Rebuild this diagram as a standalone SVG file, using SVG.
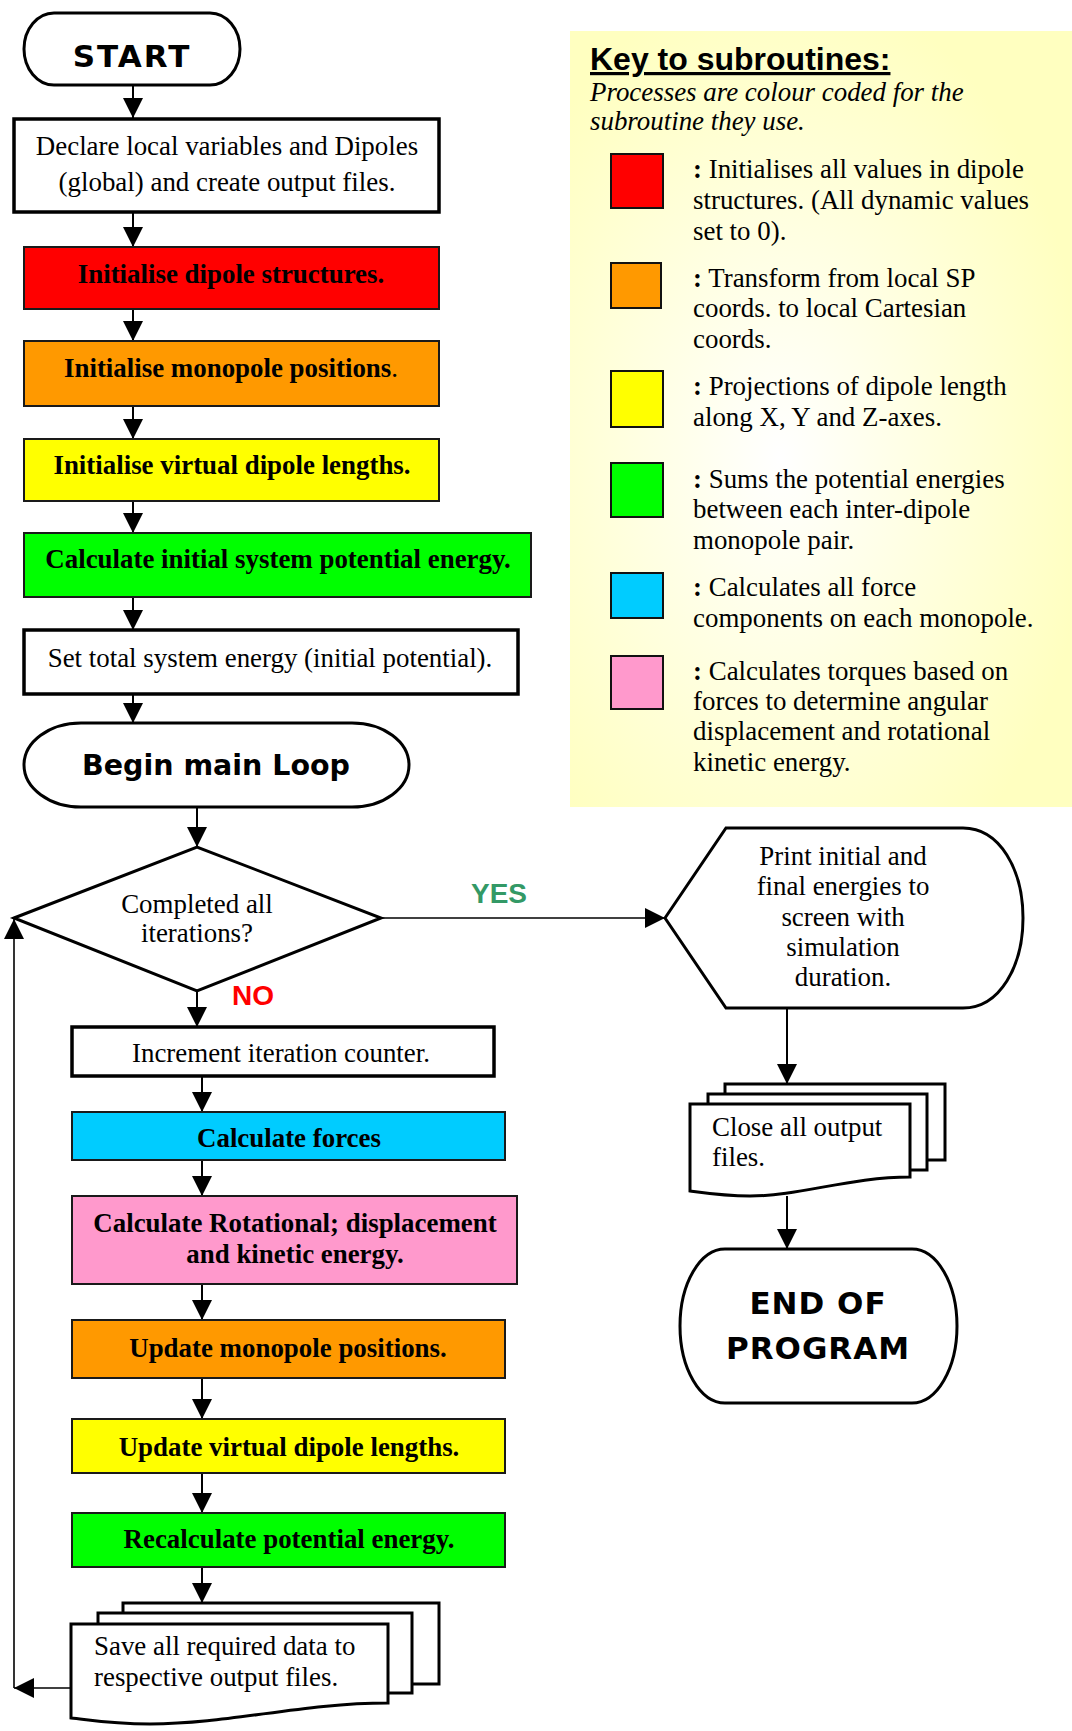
<svg xmlns="http://www.w3.org/2000/svg" width="1072" height="1731" viewBox="0 0 1072 1731">
<style>
  .serif { font-family: "Liberation Serif", "Times New Roman", serif; font-size: 26.9px; fill: #000; }
  .bold { font-weight: bold; }
  .mid { text-anchor: middle; }
  .heavy { font-family: "DejaVu Sans", "Liberation Sans", sans-serif; font-weight: bold; fill: #000; text-anchor: middle; }
  .wbox { fill: #fff; stroke: #000; stroke-width: 3.5; }
  .cbox { stroke: #1a1a1a; stroke-width: 2; }
  .shape { fill: #fff; stroke: #000; stroke-width: 3; }
  .conn { stroke: #000; stroke-width: 2; fill: none; marker-end: url(#arrow); }
  .thin { stroke: #000; stroke-width: 1.6; fill: none; marker-end: url(#arrow); }
  .sq { stroke: #111; stroke-width: 2; }
</style>
<defs>
  <marker id="arrow" viewBox="0 0 20 20" markerWidth="20" markerHeight="20" markerUnits="userSpaceOnUse" refX="20" refY="10" orient="auto">
    <path d="M0,0 L20,10 L0,20 Z" fill="#000"/>
  </marker>
  <radialGradient id="keyGrad" cx="0.42" cy="0.55" r="0.62">
    <stop offset="0" stop-color="#ffffff"/>
    <stop offset="1" stop-color="#ffffc0"/>
  </radialGradient>
</defs>

<!-- Key -->
<g id="key">
  <rect x="570" y="31" width="502" height="776" fill="url(#keyGrad)"/>
  <text x="590" y="70" font-family="Liberation Sans, Arial, sans-serif" font-weight="bold" font-size="32" text-decoration="underline">Key to subroutines:</text>
  <text class="serif" font-style="italic" x="590" y="101">Processes are colour coded for the</text>
  <text class="serif" font-style="italic" x="590" y="130">subroutine they use.</text>
  <rect class="sq" x="611" y="154" width="52" height="54" fill="#ff0000"/>
  <text class="serif" x="693" y="178"><tspan font-weight="bold">:</tspan> Initialises all values in dipole</text>
  <text class="serif" x="693" y="209">structures. (All dynamic values</text>
  <text class="serif" x="693" y="240">set to 0).</text>
  <rect class="sq" x="611" y="263" width="50" height="45" fill="#ff9900"/>
  <text class="serif" x="693" y="287"><tspan font-weight="bold">:</tspan> Transform from local SP</text>
  <text class="serif" x="693" y="317">coords. to local Cartesian</text>
  <text class="serif" x="693" y="348">coords.</text>
  <rect class="sq" x="611" y="371" width="52" height="56" fill="#ffff00"/>
  <text class="serif" x="693" y="395"><tspan font-weight="bold">:</tspan> Projections of dipole length</text>
  <text class="serif" x="693" y="426">along X, Y and Z-axes.</text>
  <rect class="sq" x="611" y="463" width="52" height="54" fill="#00ff00"/>
  <text class="serif" x="693" y="488"><tspan font-weight="bold">:</tspan> Sums the potential energies</text>
  <text class="serif" x="693" y="518">between each inter-dipole</text>
  <text class="serif" x="693" y="549">monopole pair.</text>
  <rect class="sq" x="611" y="573" width="52" height="45" fill="#00ccff"/>
  <text class="serif" x="693" y="596"><tspan font-weight="bold">:</tspan> Calculates all force</text>
  <text class="serif" x="693" y="627">components on each monopole.</text>
  <rect class="sq" x="611" y="656" width="52" height="53" fill="#ff99cc"/>
  <text class="serif" x="693" y="680"><tspan font-weight="bold">:</tspan> Calculates torques based on</text>
  <text class="serif" x="693" y="710">forces to determine angular</text>
  <text class="serif" x="693" y="740">displacement and rotational</text>
  <text class="serif" x="693" y="771">kinetic energy.</text>
</g>

<!-- Connectors -->
<g id="connectors">
  <line class="conn" x1="133" y1="85" x2="133" y2="118"/>
  <line class="conn" x1="133" y1="212" x2="133" y2="247"/>
  <line class="conn" x1="133" y1="309" x2="133" y2="341"/>
  <line class="conn" x1="133" y1="406" x2="133" y2="439"/>
  <line class="conn" x1="133" y1="501" x2="133" y2="533"/>
  <line class="conn" x1="133" y1="597" x2="133" y2="630"/>
  <line class="conn" x1="133" y1="694" x2="133" y2="723"/>
  <line class="conn" x1="197" y1="807" x2="197" y2="847"/>
  <line class="thin" x1="381" y1="918" x2="665" y2="918"/>
  <line class="conn" x1="197" y1="991" x2="197" y2="1027"/>
  <line class="conn" x1="202" y1="1076" x2="202" y2="1112"/>
  <line class="conn" x1="202" y1="1160" x2="202" y2="1196"/>
  <line class="conn" x1="202" y1="1284" x2="202" y2="1320"/>
  <line class="conn" x1="202" y1="1378" x2="202" y2="1419"/>
  <line class="conn" x1="202" y1="1473" x2="202" y2="1513"/>
  <line class="conn" x1="202" y1="1567" x2="202" y2="1603"/>
  <line class="thin" x1="71" y1="1688" x2="14" y2="1688"/>
  <line class="thin" x1="14" y1="1688" x2="14" y2="919"/>
  <line class="conn" x1="787" y1="1008" x2="787" y2="1084"/>
  <line class="conn" x1="787" y1="1196" x2="787" y2="1249"/>
</g>

<g id="start">
  <rect class="shape" x="24" y="13" width="216" height="72" rx="30" ry="36"/>
  <text class="heavy" x="132" y="67" font-size="31" letter-spacing="2">START</text>
</g>
<g id="declare">
  <rect class="wbox" x="14" y="119" width="425" height="93"/>
  <text class="serif mid" x="227" y="155">Declare local variables and Dipoles</text>
  <text class="serif mid" x="227" y="191">(global) and create output files.</text>
</g>
<g id="init-dipole">
  <rect class="cbox" x="24" y="247" width="415" height="62" fill="#ff0000"/>
  <text class="serif bold mid" x="231" y="283">Initialise dipole structures.</text>
</g>
<g id="init-monopole">
  <rect class="cbox" x="24" y="341" width="415" height="65" fill="#ff9900"/>
  <text class="serif bold mid" x="231" y="377">Initialise monopole positions<tspan font-weight="normal">.</tspan></text>
</g>
<g id="init-virtual">
  <rect class="cbox" x="24" y="439" width="415" height="62" fill="#ffff00"/>
  <text class="serif bold mid" x="232" y="474">Initialise virtual dipole lengths.</text>
</g>
<g id="calc-initial">
  <rect class="cbox" x="24" y="533" width="507" height="64" fill="#00ff00"/>
  <text class="serif bold mid" x="278" y="568">Calculate initial system potential energy.</text>
</g>
<g id="set-total">
  <rect class="wbox" x="24" y="630" width="494" height="64"/>
  <text class="serif mid" x="270" y="667">Set total system energy (initial potential).</text>
</g>
<g id="begin-loop">
  <rect class="shape" x="24" y="723" width="385" height="84" rx="57" ry="42"/>
  <text class="heavy" x="216" y="775" font-size="28.5">Begin main Loop</text>
</g>
<g id="decision">
  <polygon class="shape" points="14,918 197,847 381,918 197,991"/>
  <text class="serif mid" x="197" y="913">Completed all</text>
  <text class="serif mid" x="197" y="942">iterations?</text>
  <text x="471" y="903" font-family="Liberation Sans, Arial, sans-serif" font-weight="bold" font-size="28" fill="#339966">YES</text>
  <text x="232" y="1005" font-family="Liberation Sans, Arial, sans-serif" font-weight="bold" font-size="28" fill="#ff0000">NO</text>
</g>
<g id="increment">
  <rect class="wbox" x="72" y="1027" width="422" height="49"/>
  <text class="serif mid" x="281" y="1062">Increment iteration counter.</text>
</g>
<g id="calc-forces">
  <rect class="cbox" x="72" y="1112" width="433" height="48" fill="#00ccff"/>
  <text class="serif bold mid" x="289" y="1147">Calculate forces</text>
</g>
<g id="calc-rot">
  <rect class="cbox" x="72" y="1196" width="445" height="88" fill="#ff99cc"/>
  <text class="serif bold mid" x="295" y="1232">Calculate Rotational; displacement</text>
  <text class="serif bold mid" x="295" y="1263">and kinetic energy.</text>
</g>
<g id="update-monopole">
  <rect class="cbox" x="72" y="1320" width="433" height="58" fill="#ff9900"/>
  <text class="serif bold mid" x="288" y="1357">Update monopole positions.</text>
</g>
<g id="update-virtual">
  <rect class="cbox" x="72" y="1419" width="433" height="54" fill="#ffff00"/>
  <text class="serif bold mid" x="289" y="1456">Update virtual dipole lengths.</text>
</g>
<g id="recalc">
  <rect class="cbox" x="72" y="1513" width="433" height="54" fill="#00ff00"/>
  <text class="serif bold mid" x="289" y="1548">Recalculate potential energy.</text>
</g>
<g id="save">
  <rect class="shape" x="123" y="1603" width="316" height="81"/>
  <rect class="shape" x="98" y="1613" width="314" height="80"/>
  <path class="shape" d="M71,1624 L388,1624 L388,1703 C300,1703 230,1724 150,1724 C110,1724 90,1720 71,1718 Z"/>
  <text class="serif" x="94" y="1655">Save all required data to</text>
  <text class="serif" x="94" y="1686">respective output files.</text>
</g>
<g id="print">
  <path class="shape" d="M665,918 L726,828 L963,828 C1000,828 1023,870 1023,918 C1023,966 1000,1008 963,1008 L726,1008 Z"/>
  <text class="serif mid" x="843" y="865">Print initial and</text>
  <text class="serif mid" x="843" y="895">final energies to</text>
  <text class="serif mid" x="843" y="926">screen with</text>
  <text class="serif mid" x="843" y="956">simulation</text>
  <text class="serif mid" x="843" y="986">duration.</text>
</g>
<g id="close">
  <rect class="shape" x="725" y="1084" width="220" height="76"/>
  <rect class="shape" x="708" y="1094" width="219" height="76"/>
  <path class="shape" d="M690,1104 L910,1104 L910,1177 C850,1177 800,1196 750,1196 C725,1196 705,1193 690,1191 Z"/>
  <text class="serif" x="712" y="1136">Close all output</text>
  <text class="serif" x="712" y="1166">files.</text>
</g>
<g id="end">
  <rect class="shape" x="680" y="1249" width="277" height="154" rx="45" ry="77"/>
  <text class="heavy" x="818" y="1314" font-size="31" letter-spacing="1">END OF</text>
  <text class="heavy" x="818" y="1359" font-size="31" letter-spacing="1">PROGRAM</text>
</g>
</svg>
